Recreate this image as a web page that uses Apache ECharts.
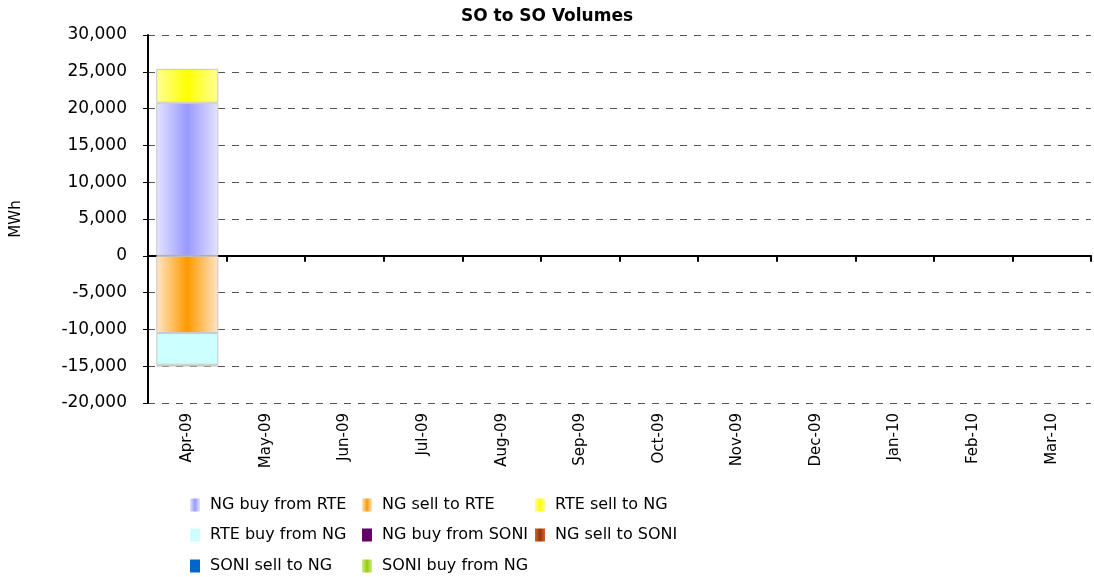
<!DOCTYPE html>
<html>
<head>
<meta charset="utf-8">
<script src="https://cdn.jsdelivr.net/npm/echarts@6/dist/echarts.min.js"></script>
<style>
  html, body { margin: 0; padding: 0; background: #fff; }
  #chart { width: 1094px; height: 577px; }
</style>
</head>
<body>
<div id="chart"></div>
<script>
const months = ['Apr-09', 'May-09', 'Jun-09', 'Jul-09', 'Aug-09', 'Sep-09', 'Oct-09', 'Nov-09', 'Dec-09', 'Jan-10', 'Feb-10', 'Mar-10']
const yTicks = { min: -20000, max: 30000, interval: 5000 }

// MWh per month, only April has volumes
const ngBuyFromRte = [20800, null, null, null, null, null, null, null, null, null, null, null]
const ngSellToRte = [-10500, null, null, null, null, null, null, null, null, null, null, null]
const rteSellToNg = [4600, null, null, null, null, null, null, null, null, null, null, null]
const rteBuyFromNg = [-4300, null, null, null, null, null, null, null, null, null, null, null]
const ngBuyFromSoni = [null, null, null, null, null, null, null, null, null, null, null, null]
const ngSellToSoni = [null, null, null, null, null, null, null, null, null, null, null, null]
const soniSellToNg = [null, null, null, null, null, null, null, null, null, null, null, null]
const soniBuyFromNg = [-250, null, null, null, null, null, null, null, null, null, null, null]

const font = 'DejaVu Sans'

// horizontal shading like the old excel bars
const shade = (edge, mid) => new echarts.graphic.LinearGradient(0, 0, 1, 0, [
    { offset: 0, color: edge },
    { offset: 0.5, color: mid },
    { offset: 1, color: edge }
])

const makeSeries = (name, data, color) => ({
    name: name,
    type: 'bar',
    stack: 'vol',
    data: data,
    barCategoryGap: '21%',
    itemStyle: { color: color, borderColor: '#c8c8c8', borderWidth: 1 }
})

const series = [
    makeSeries('NG buy from RTE', ngBuyFromRte, shade('#e4e4ff', '#9999ff')),
    makeSeries('NG sell to RTE', ngSellToRte, shade('#ffe6c8', '#ff9900')),
    makeSeries('RTE sell to NG', rteSellToNg, shade('#ffff99', '#ffff00')),
    makeSeries('RTE buy from NG', rteBuyFromNg, '#ccffff'),
    makeSeries('NG buy from SONI', ngBuyFromSoni, '#660066'),
    makeSeries('NG sell to SONI', ngSellToSoni, shade('#cc6633', '#993300')),
    makeSeries('SONI sell to NG', soniSellToNg, '#0066cc'),
    makeSeries('SONI buy from NG', soniBuyFromNg, shade('#ccee88', '#99cc00'))
]

// one legend per item so the 3-column grid sits where the original has it
const legendCols = [185, 357, 530]
const legendRows = [492, 522, 553]
const legends = series.map((s, i) => ({
    left: legendCols[i % 3],
    top: legendRows[Math.floor(i / 3)],
    data: [s.name],
    itemWidth: 10,
    itemHeight: 13,
    icon: 'rect',
    itemStyle: { borderWidth: 0 },
    textStyle: { fontFamily: font, fontSize: 16, color: '#000', padding: [0, 0, 0, 5] }
}))

const chartDom = document.getElementById('chart')
const myChart = echarts.init(chartDom)

const option = {
    animation: false,
    title: {
        text: 'SO to SO Volumes',
        left: 'center',
        top: 3,
        textStyle: { fontFamily: font, fontSize: 17, fontWeight: 'bold', color: '#000' }
    },
    legend: legends,
    grid: { left: 148, right: 3, top: 35, bottom: 174, containLabel: false },
    xAxis: [
        {
            type: 'category',
            data: months,
            position: 'bottom',
            axisLine: { show: false, onZero: false },
            axisTick: { show: false },
            axisLabel: { rotate: 90, margin: 10, fontFamily: font, fontSize: 15, color: '#000' }
        },
        {
            type: 'category',
            data: months,
            position: 'bottom',
            axisLine: { show: true, onZero: true, onZeroAxisIndex: 0, lineStyle: { color: '#000', width: 2 } },
            axisTick: { show: true, length: 6, lineStyle: { color: '#000', width: 2 } },
            axisLabel: { show: false }
        }
    ],
    yAxis: {
        type: 'value',
        name: 'MWh',
        nameLocation: 'middle',
        nameGap: 124,
        nameTextStyle: { fontFamily: font, fontSize: 15, color: '#000' },
        min: yTicks.min,
        max: yTicks.max,
        interval: yTicks.interval,
        axisLine: { show: true, lineStyle: { color: '#000', width: 2 } },
        axisTick: { show: true, length: 5, lineStyle: { color: '#000' } },
        axisLabel: {
            margin: 21,
            fontFamily: font,
            fontSize: 17,
            color: '#000',
            formatter: v => v.toLocaleString('en-US')
        },
        splitLine: { show: true, lineStyle: { color: '#555', type: [7, 7], width: 1 } }
    },
    series: series
}
myChart.setOption(option)
</script>
</body>
</html>
